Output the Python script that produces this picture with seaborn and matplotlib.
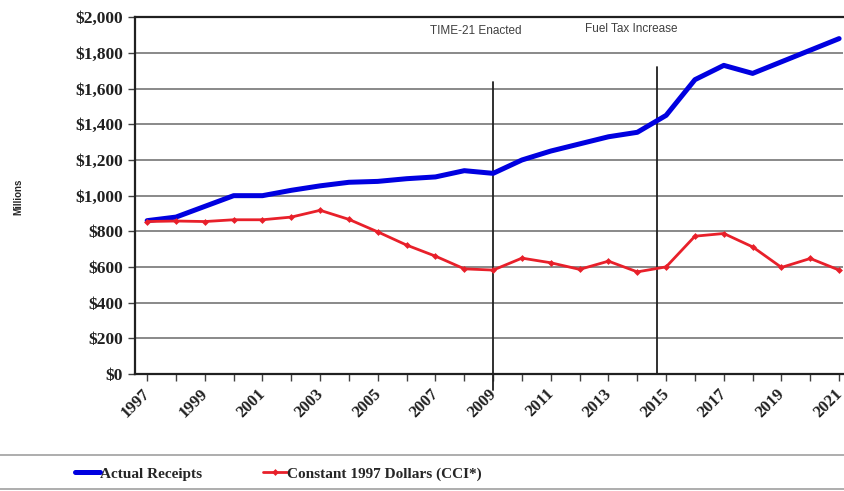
import numpy as np
import pandas as pd
import matplotlib
matplotlib.use("Agg")
import matplotlib.pyplot as plt
import matplotlib.transforms as mtransforms
import seaborn as sns
from matplotlib.ticker import FuncFormatter, MultipleLocator, FixedLocator
from matplotlib.patches import Rectangle

years = list(range(1997, 2022))
actual = [860, 880, 940, 1000, 1000, 1030, 1055, 1075, 1080, 1095, 1105, 1140, 1125,
          1200, 1250, 1290, 1330, 1355, 1450, 1650, 1730, 1685, 1750, 1815, 1880]
constant = [855, 858, 855, 865, 865, 880, 918, 867, 797, 723, 661, 590, 583,
            650, 624, 587, 633, 573, 601, 773, 788, 713, 598, 648, 583]
tick_years = years[::2]
events = ["TIME-21 Enacted", "Fuel Tax Increase"]
event_x = [2009, 2014.7]
event_top = [1636, 1720]

df = pd.DataFrame({"year": years, "Actual Receipts": actual,
                   "Constant 1997 Dollars (CCI*)": constant})

sns.set_style("white")
plt.rcParams['font.family'] = ['Liberation Serif', 'DejaVu Serif']

fig = plt.figure(figsize=(8.44, 4.91), dpi=100)
ax = fig.add_axes([0.16, 0.238, 0.839, 0.727])

for y in range(200, 2001, 200):
    ax.axhline(y, color="#808080", lw=1.3, zorder=1)

sns.lineplot(data=df, x="year", y="Actual Receipts", color="#0000e0", lw=3.6,
             ax=ax, label="Actual Receipts", zorder=3)
sns.lineplot(data=df, x="year", y="Constant 1997 Dollars (CCI*)", color="#e8202a", lw=2,
             marker="D", markersize=3.5, markeredgewidth=0, ax=ax,
             label="Constant 1997 Dollars (CCI*)", zorder=3)

ax.plot([event_x[0], event_x[0]], [-90, event_top[0]], color="#202020", lw=1.3,
        clip_on=False, zorder=2)
ax.plot([event_x[1], event_x[1]], [0, event_top[1]], color="#202020", lw=1.3, zorder=2)
ax.text(2008.4, 1920, events[0], family="Liberation Sans", fontsize=8.5,
        color="#404040", ha="center", va="center")
ax.text(2013.8, 1935, events[1], family="Liberation Sans", fontsize=8.5,
        color="#404040", ha="center", va="center")

ax.set_xlim(1996.58, 2021.14)
ax.set_ylim(0, 2000)
ax.xaxis.set_major_locator(FixedLocator(tick_years))
ax.xaxis.set_minor_locator(MultipleLocator(1))
ax.xaxis.set_major_formatter(FuncFormatter(lambda v, p: f"{int(round(v))}"))
ax.yaxis.set_major_locator(MultipleLocator(200))
ax.yaxis.set_major_formatter(FuncFormatter(lambda v, p: f"${v:,.0f}"))
ax.tick_params(axis="x", which="both", direction="out", length=5, width=1,
               bottom=True, color="#404040")
ax.tick_params(axis="y", direction="out", length=5, width=1, left=True, color="#404040")
for lab in ax.get_yticklabels():
    lab.set_fontweight("bold")
    lab.set_fontsize(12.5)
    lab.set_color("#202020")
plt.setp(ax.get_xticklabels(), rotation=45, ha="right", rotation_mode="anchor",
         fontweight="bold", fontsize=12, color="#202020")
shift = mtransforms.ScaledTranslation(-5 / 100, 0, fig.dpi_scale_trans)
for lab in ax.get_xticklabels():
    lab.set_transform(lab.get_transform() + shift)
ax.set_xlabel("")
ax.set_ylabel("")
fig.text(0.022, 0.60, "Millions", rotation=90, family="Liberation Sans",
         fontsize=7, fontweight="bold", ha="center", va="center")

for side in ["left", "bottom", "top"]:
    ax.spines[side].set_color("#202020")
    ax.spines[side].set_linewidth(1.6)
ax.spines["right"].set_visible(False)

# legend box across the whole width
fig.patches.append(Rectangle((-0.01, 0.004), 1.02, 0.07, transform=fig.transFigure,
                             facecolor="white", edgecolor="#a0a0a0", lw=1.2))

handles, labels = ax.get_legend_handles_labels()
ax.get_legend().remove()
leg = fig.legend(handles, labels, loc="center", bbox_to_anchor=(0.33, 0.035),
                 ncol=2, frameon=False, handlelength=1.6, handletextpad=0.0,
                 columnspacing=4.0, prop={"weight": "bold", "size": 11})

fig.savefig("out.png", dpi=100)
